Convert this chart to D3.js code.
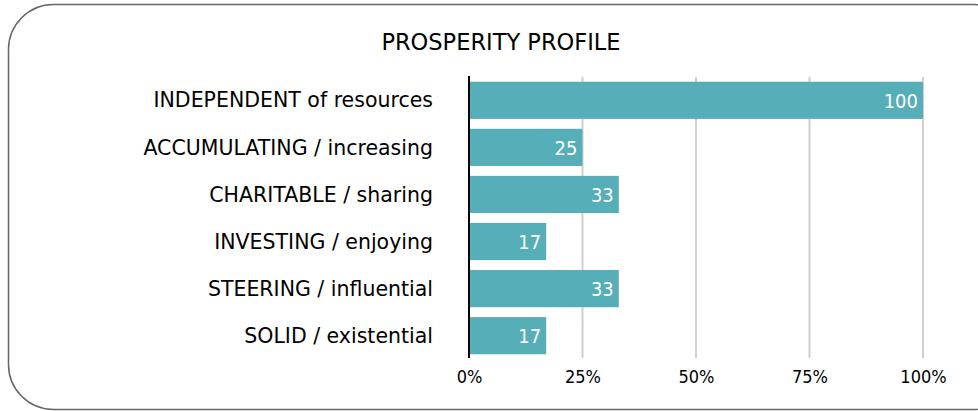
<!DOCTYPE html>
<html>
<head>
<meta charset="utf-8">
<script src="https://cdn.jsdelivr.net/npm/d3@7"></script>
<style>
  html, body { margin: 0; padding: 0; background: #fff; }
  svg text { font-family: "DejaVu Sans", sans-serif; }
</style>
</head>
<body>
<svg id="chart" width="978" height="411"></svg>
<script>
// données du graphique
var categories = ["INDEPENDENT of resources", "ACCUMULATING / increasing", "CHARITABLE / sharing",
                  "INVESTING / enjoying", "STEERING / influential", "SOLID / existential"];
var values = [100, 25, 33, 17, 33, 17];
var ticks = [0, 25, 50, 75, 100];
var title = "PROSPERITY PROFILE";

var svg = d3.select("#chart");
var cond = "\"DejaVu Sans Condensed\", \"DejaVu Sans\", sans-serif";

// cadre arrondi
svg.append("rect")
    .attr("x", 8.5).attr("y", 4.5)
    .attr("width", 1010).attr("height", 405)
    .attr("rx", 45).attr("ry", 45)
    .attr("fill", "none")
    .attr("stroke", "#666")
    .attr("stroke-width", 1.5);

svg.append("text")
    .attr("x", 501).attr("y", 42)
    .attr("text-anchor", "middle")
    .attr("dy", ".35em")
    .style("font-size", "22.5px")
    .attr("fill", "#000")
    .text(title);

var x = d3.scaleLinear().domain([0, 100]).range([469, 923]);
var y = d3.scaleBand().domain(categories).range([77, 359]).paddingInner(0.21).paddingOuter(0.1);

var g = svg.append("g");

// grille
g.selectAll("line.grid")
    .data(ticks.slice(1))
    .enter().append("line")
    .attr("class", "grid")
    .attr("x1", function(d) { return x(d); })
    .attr("x2", function(d) { return x(d); })
    .attr("y1", 77).attr("y2", 358)
    .attr("stroke", "#d0d0d0")
    .attr("stroke-width", 2);

// barres
g.selectAll("rect.bar")
    .data(values)
    .enter().append("rect")
    .attr("class", "bar")
    .attr("x", x(0))
    .attr("y", function(d, i) { return y(categories[i]); })
    .attr("width", function(d) { return x(d) - x(0); })
    .attr("height", y.bandwidth())
    .attr("fill", "#56aeb8");

// valeurs
g.selectAll("text.val")
    .data(values)
    .enter().append("text")
    .attr("class", "val")
    .attr("x", function(d) { return x(d) - 5; })
    .attr("y", function(d, i) { return y(categories[i]) + y.bandwidth() / 2; })
    .attr("dy", ".36em")
    .attr("text-anchor", "end")
    .attr("fill", "#fff")
    .style("font-size", "20px")
    .style("font-family", cond)
    .text(function(d) { return d; });

// libellés des catégories
g.selectAll("text.cat")
    .data(categories)
    .enter().append("text")
    .attr("class", "cat")
    .attr("x", 433)
    .attr("y", function(d) { return y(d) + y.bandwidth() / 2; })
    .attr("dy", ".35em")
    .attr("text-anchor", "end")
    .attr("fill", "#000")
    .style("font-size", "20.5px")
    .text(function(d) { return d; });

// axe vertical
g.append("line")
    .attr("x1", x(0)).attr("x2", x(0))
    .attr("y1", 76).attr("y2", 358)
    .attr("stroke", "#000")
    .attr("stroke-width", 2);

// axe des x
var xAxis = d3.axisBottom(x).tickValues(ticks).tickSize(0).tickPadding(0)
    .tickFormat(function(d) { return d + "%"; });
var ax = svg.append("g").attr("transform", "translate(0,370)").call(xAxis);
ax.select(".domain").remove();
ax.selectAll("text")
    .attr("fill", "#000")
    .style("font-size", "18px")
    .style("font-family", cond);
</script>
</body>
</html>
